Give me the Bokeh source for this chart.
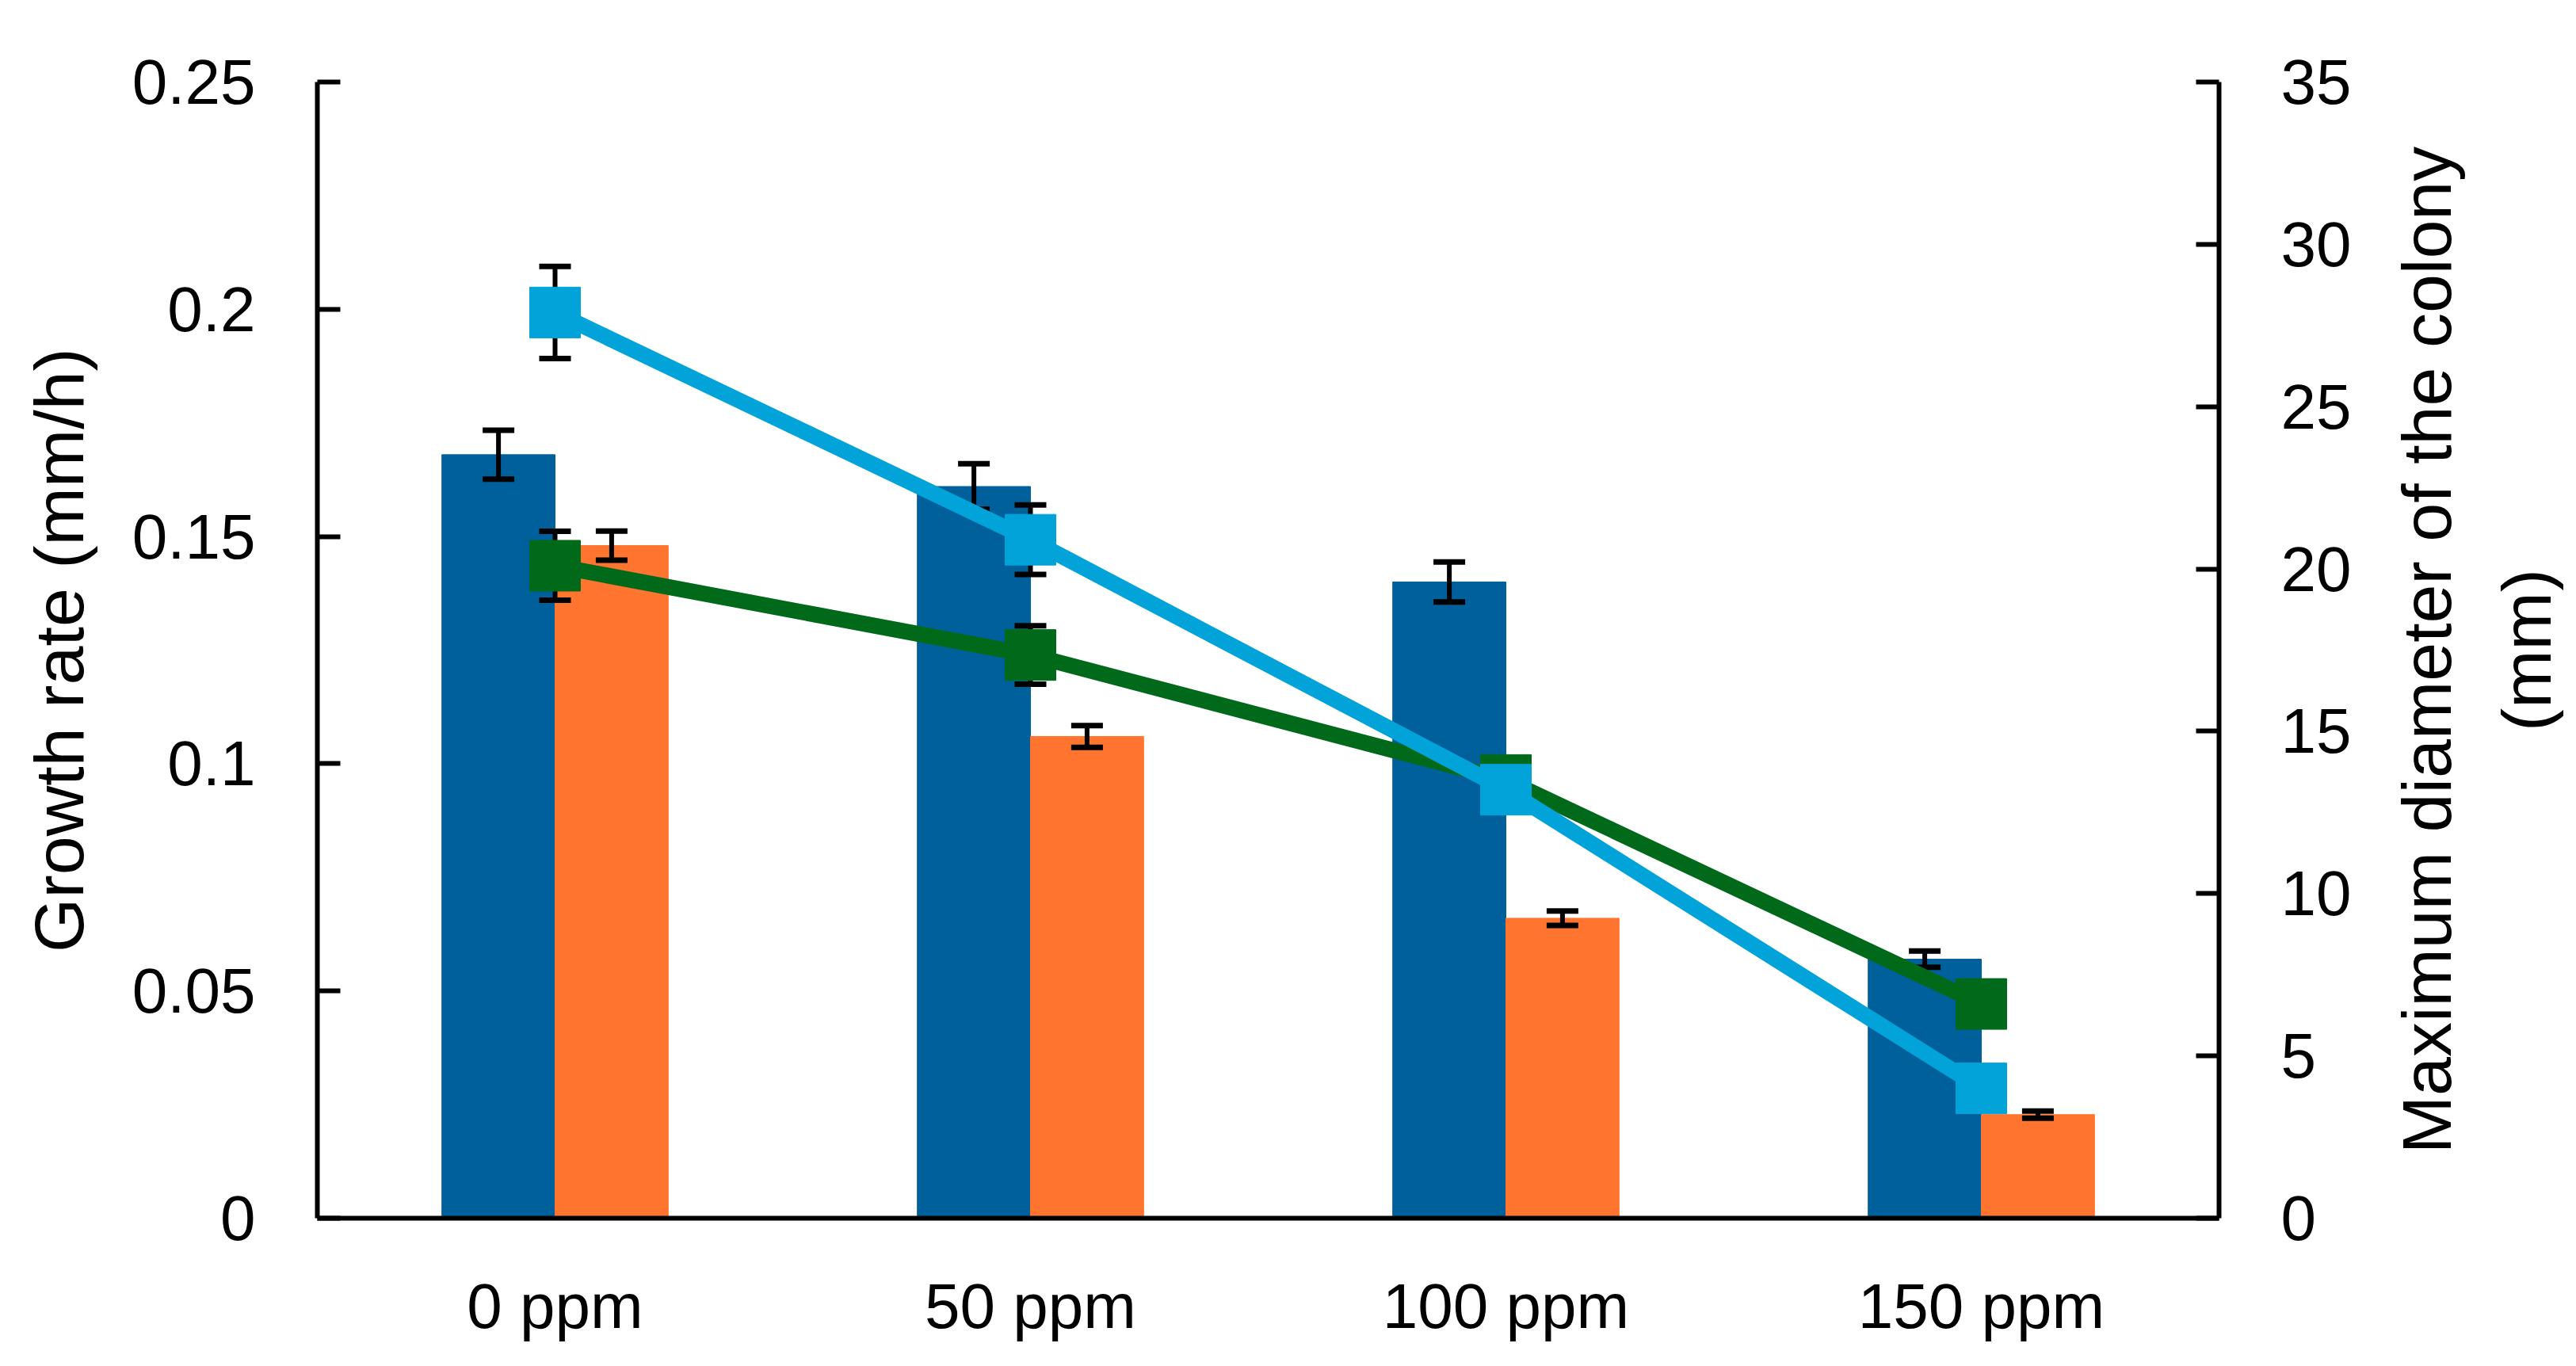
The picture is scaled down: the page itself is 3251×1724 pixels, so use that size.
import math
from bokeh.plotting import figure
from bokeh.layouts import row
from bokeh.models import (ColumnDataSource, FactorRange, Range1d, LinearAxis,
                          FixedTicker)
from bokeh.core.properties import value
from bokeh.transform import dodge
from bokeh.embed import file_html
from bokeh.resources import INLINE

categories = ["0 ppm", "50 ppm", "100 ppm", "150 ppm"]

# growth rate bars (left axis, mm/h)
rate_dark = [0.168, 0.161, 0.140, 0.057]
rate_dark_err = [0.0054, 0.005, 0.0044, 0.0018]
rate_orange = [0.148, 0.106, 0.066, 0.0228]
rate_orange_err = [0.0032, 0.0024, 0.0016, 0.0008]

# colony diameter lines (right axis, mm)
diam_blue = [27.9, 20.9, 13.2, 4.0]
diam_blue_err = [1.42, 1.07, 0.5, 0.3]
diam_green = [20.1, 17.35, 13.5, 6.6]
diam_green_err = [1.06, 0.9, 0.4, 0.3]

left_ticks = [0, 0.05, 0.1, 0.15, 0.2, 0.25]
left_tick_labels = ["0", "0.05", "0.1", "0.15", "0.2", "0.25"]
right_ticks = [0, 5, 10, 15, 20, 25, 30, 35]
right_title = ["Maximum diameter of the colony", "(mm)"]

FONT = "Liberation Sans"

src = ColumnDataSource(dict(
    cat=categories,
    dark=rate_dark,
    dark_lo=[v - e for v, e in zip(rate_dark, rate_dark_err)],
    dark_hi=[v + e for v, e in zip(rate_dark, rate_dark_err)],
    orange=rate_orange,
    orange_lo=[v - e for v, e in zip(rate_orange, rate_orange_err)],
    orange_hi=[v + e for v, e in zip(rate_orange, rate_orange_err)],
    blue=diam_blue,
    blue_lo=[v - e for v, e in zip(diam_blue, diam_blue_err)],
    blue_hi=[v + e for v, e in zip(diam_blue, diam_blue_err)],
    green=diam_green,
    green_lo=[v - e for v, e in zip(diam_green, diam_green_err)],
    green_hi=[v + e for v, e in zip(diam_green, diam_green_err)],
))

FW, FH = 2400, 1434
TOP, BOT = 103, 171
p = figure(x_range=FactorRange(*categories, range_padding=0),
           y_range=Range1d(0, 0.25),
           frame_width=FW, frame_height=FH,
           min_border_left=400, min_border_right=200,
           min_border_top=TOP, min_border_bottom=BOT,
           output_backend="svg", toolbar_location=None)
p.width = 400 + FW + 200
p.height = TOP + FH + BOT
p.extra_y_ranges = {"right": Range1d(0, 35)}
p.outline_line_color = None
p.xgrid.visible = False
p.ygrid.visible = False

bw = 0.238
off = 0.119

p.vbar(x=dodge("cat", -off, range=p.x_range), top="dark", width=bw,
       source=src, color="#00609C")
p.vbar(x=dodge("cat", off, range=p.x_range), top="orange", width=bw,
       source=src, color="#FF742E")


def errbar(xspec, lo, hi, rng="default"):
    p.segment(x0=xspec, y0=lo, x1=xspec, y1=hi, source=src, y_range_name=rng,
              line_color="black", line_width=6)
    for col in (lo, hi):
        p.scatter(x=xspec, y=col, source=src, y_range_name=rng, marker="dash",
                  size=40, line_color="black", line_width=7)


errbar(dodge("cat", -off, range=p.x_range), "dark_lo", "dark_hi")
errbar(dodge("cat", off, range=p.x_range), "orange_lo", "orange_hi")

errbar("cat", "green_lo", "green_hi", "right")
p.line("cat", "green", source=src, y_range_name="right",
       line_color="#006A1A", line_width=20)
p.scatter("cat", "green", source=src, y_range_name="right", marker="square",
          size=64, fill_color="#006A1A", line_color="#006A1A")

errbar("cat", "blue_lo", "blue_hi", "right")
p.line("cat", "blue", source=src, y_range_name="right",
       line_color="#02A3D8", line_width=20)
p.scatter("cat", "blue", source=src, y_range_name="right", marker="square",
          size=64, fill_color="#02A3D8", line_color="#02A3D8")

ra = LinearAxis(y_range_name="right")
p.add_layout(ra, "right")

for ax in (p.yaxis[0], ra):
    ax.axis_line_width = 6
    ax.major_tick_line_width = 6
    ax.major_tick_in = 29
    ax.major_tick_out = 0
    ax.minor_tick_line_color = None
    ax.major_label_text_font = FONT
    ax.major_label_text_font_size = "80px"
    ax.major_label_text_color = "black"
    ax.major_label_standoff = 78
    ax.axis_label_text_font = FONT
    ax.axis_label_text_font_size = "88px"
    ax.axis_label_text_font_style = "normal"
    ax.axis_label_text_color = "black"
    ax.axis_label_standoff = 40

p.yaxis[0].ticker = FixedTicker(ticks=left_ticks)
p.yaxis[0].major_label_overrides = dict(zip(left_ticks, left_tick_labels))
p.yaxis[0].axis_label = "Growth rate (mm/h)"

ra.ticker = FixedTicker(ticks=right_ticks)

xa = p.xaxis[0]
xa.axis_line_width = 6
xa.major_tick_line_color = None
xa.minor_tick_line_color = None
xa.major_label_text_font = FONT
xa.major_label_text_font_size = "80px"
xa.major_label_text_color = "black"
xa.major_label_standoff = 60

# narrow strip to the right holding the right axis title (bottom-to-top, two lines)
SW = 235
t = figure(width=SW, height=p.height, x_range=Range1d(0, SW), y_range=Range1d(0, 35),
           min_border_left=0, min_border_right=0,
           min_border_top=TOP, min_border_bottom=BOT,
           output_backend="svg", toolbar_location=None)
t.frame_width = SW
t.frame_height = FH
t.axis.visible = False
t.xgrid.visible = False
t.ygrid.visible = False
t.outline_line_color = None
t.text(x=[62, 188], y=[17.5, 17.5], text=right_title, angle=math.pi / 2,
       text_align="center", text_baseline="middle",
       text_font=value(FONT), text_font_size="88px", text_color="black")

layout = row(p, t, spacing=0)
open("out.html", "w").write(file_html(layout, INLINE))
